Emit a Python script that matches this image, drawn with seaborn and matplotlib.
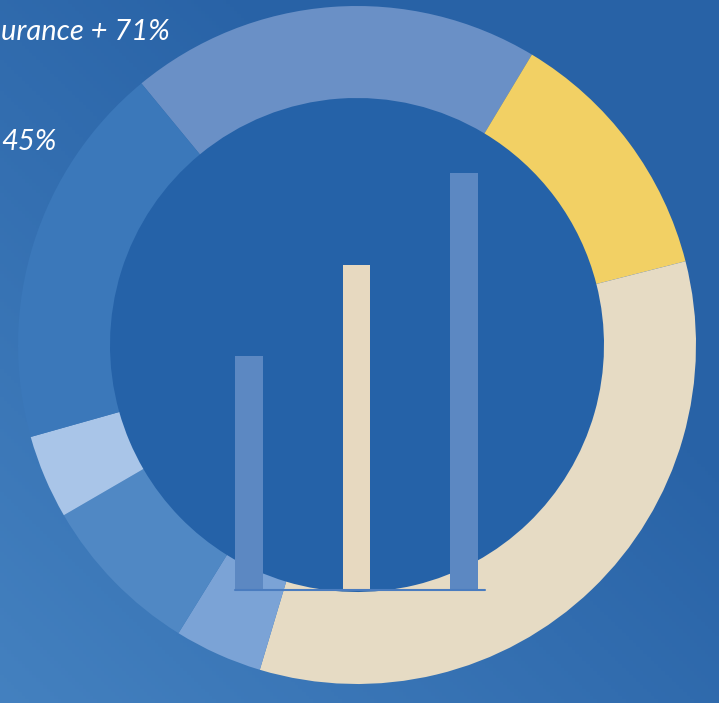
import numpy as np
import pandas as pd
import matplotlib
matplotlib.use("Agg")
import matplotlib.pyplot as plt
import seaborn as sns
from matplotlib.colors import LinearSegmentedColormap

# ---- data ----
ring_labels = ["A", "B", "C", "D", "E", "F", "G"]
ring_values = [19.6, 12.4, 33.6, 4.2, 7.8, 4.0, 18.4]
ring_colors = ["#6a90c6", "#f2d064", "#e6dbc4", "#7ba3d6", "#5088c4", "#a9c5e8", "#3b78ba"]

bar_categories = ["Bar 1", "Bar 2", "Bar 3"]
bar_values = [56, 78, 100]
bar_colors = ["#5c88c2", "#e7d9c0", "#5c88c2"]

text_line1 = "urance + 71%"
text_line2 = "45%"

W, H = 719, 703
sns.set_theme(style="white")
plt.rcParams['font.family'] = ['Lato', 'DejaVu Sans']

fig = plt.figure(figsize=(W / 100, H / 100), dpi=100)

# background gradient
bg = fig.add_axes([0, 0, 1, 1])
bg.set_axis_off()
yy, xx = np.mgrid[0:1:200j, 0:1:200j]
t = np.clip(0.55 * (1 - xx) + 0.55 * yy - 0.35, 0, 1)  # lighter to bottom-left
cmap = LinearSegmentedColormap.from_list("bgc", ["#2862a6", "#4d8bc8"])
bg.imshow(t, cmap=cmap, extent=[0, W, 0, H], aspect='auto', origin='upper', vmin=0, vmax=1)
bg.set_xlim(0, W)
bg.set_ylim(0, H)

# donut
ax = fig.add_axes([0, 0, 1, 1])
ax.set_axis_off()
cx, cy, R = 357, H - 345, 339
ax.add_patch(plt.Circle((cx, cy), 247, color="#2562a8", zorder=0))
ax.pie(ring_values, colors=ring_colors, startangle=129.5, counterclock=False,
       radius=R, center=(cx, cy),
       wedgeprops=dict(width=R - 247, linewidth=0))
ax.set_xlim(0, W)
ax.set_ylim(0, H)
ax.set_aspect('equal', adjustable='box')

# texts
ax.text(1, H - 32, text_line1, color="white", fontsize=21, fontstyle="italic",
        ha="left", va="center")
ax.text(1, H - 142, text_line2, color="white", fontsize=21, fontstyle="italic",
        ha="left", va="center")

# bars
spacing = 107.5
left = 249 - spacing / 2
base = 590
height = 417
bax = fig.add_axes([left / W, (H - base) / H, 3 * spacing / W, height / H])
bax.patch.set_alpha(0)
df = pd.DataFrame({"cat": bar_categories, "val": bar_values})
sns.barplot(data=df, x="cat", y="val", hue="cat", palette=bar_colors, width=0.26,
            legend=False, ax=bax, saturation=1, linewidth=0, edgecolor="none")
bax.set_ylim(0, 100)
bax.set_xlim(-0.5, 2.5)
bax.axhline(0, xmin=(235 - left) / (3 * spacing), xmax=(485 - left) / (3 * spacing),
            color="#4a7cbf", lw=1.5, clip_on=False)
bax.set_axis_off()

fig.savefig("out.png", dpi=100)
